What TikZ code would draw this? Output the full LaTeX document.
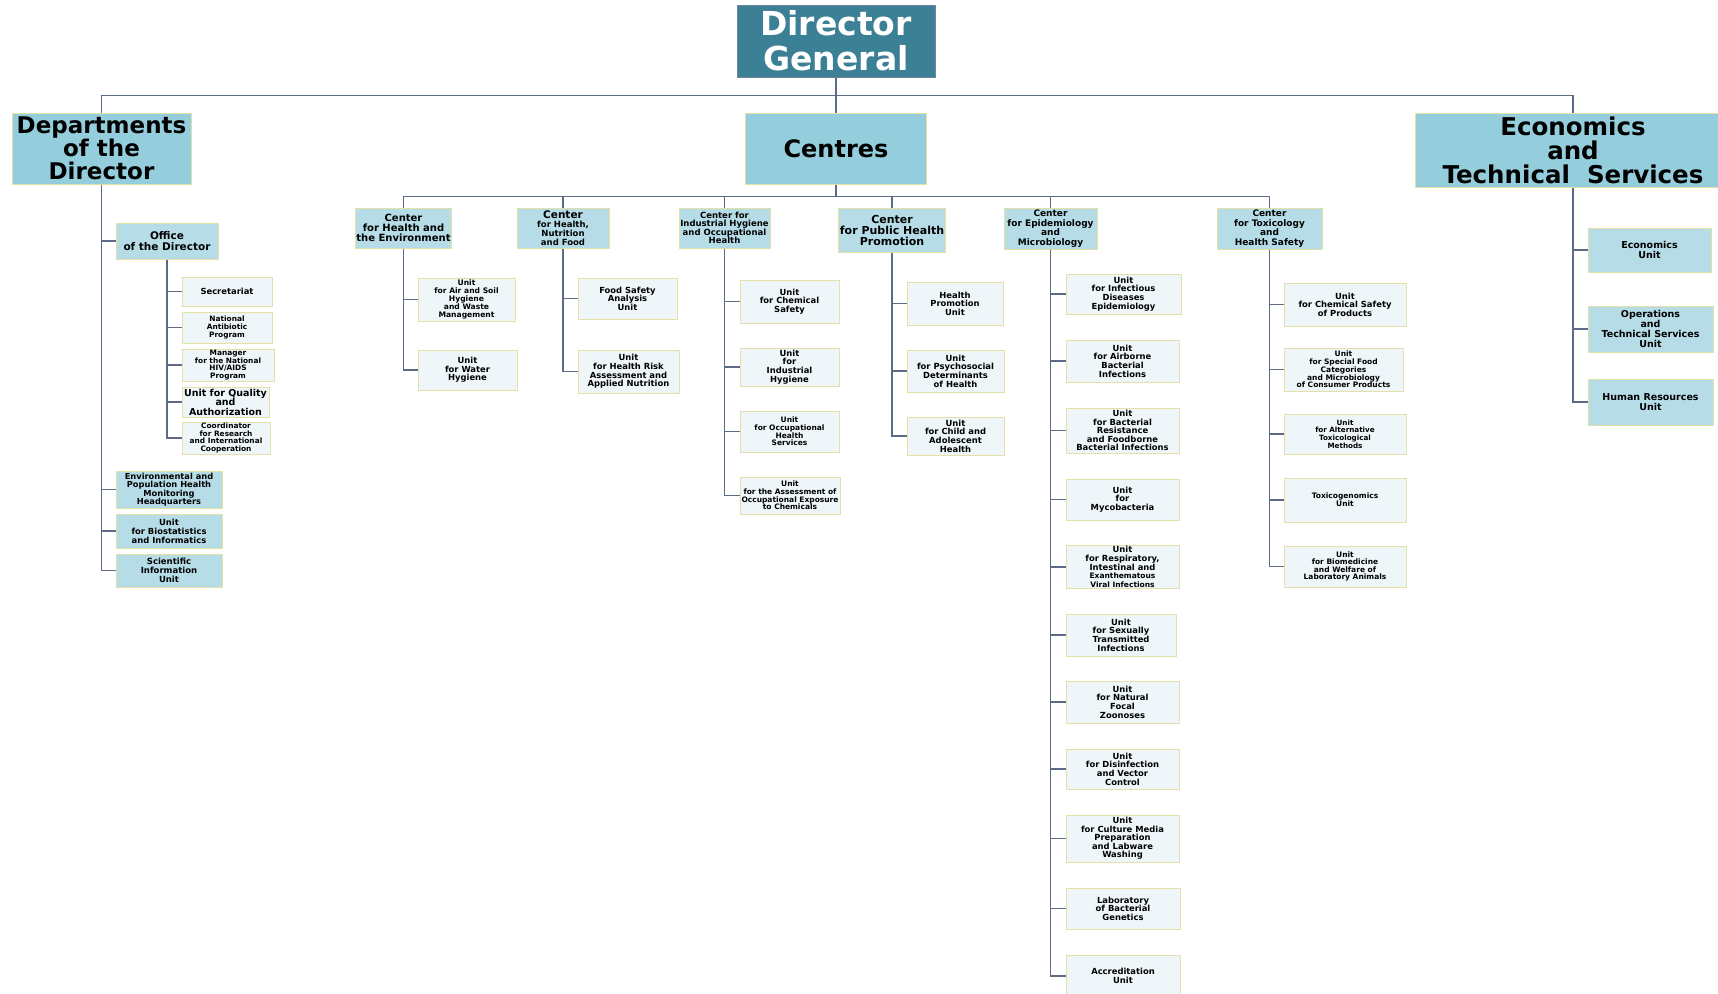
\documentclass[tikz,border=0pt]{standalone}
\usepackage{fontspec}
\setmainfont{DejaVu Sans}
\usetikzlibrary{positioning}
\definecolor{dgTeal}    {HTML}{3B8094}
\definecolor{dgEdge}    {HTML}{6E8598}
\definecolor{branchBlue}{HTML}{94CEDC}
\definecolor{centreBlue}{HTML}{B6DDE7}
\definecolor{unitWhite} {HTML}{EEF6F9}
\definecolor{boxEdge}   {HTML}{E4E1A6}
\definecolor{linkGrey}  {HTML}{5D6B86}
\tikzstyle{director} = [draw=dgEdge, fill=dgTeal, text=white, fs={33}{35}]
\tikzstyle{branch}   = [draw=boxEdge, fill=branchBlue, fs={23}{23}]
\tikzstyle{centre}   = [draw=boxEdge, fill=centreBlue, fs={8.5}{9}]
\tikzstyle{unit}     = [draw=boxEdge, fill=unitWhite, fs={8.4}{8.6}]
\tikzstyle{link}     = [draw=linkGrey, line width=1.4pt]
\tikzset{
  every node/.style={rectangle, align=center, inner sep=1pt, line width=1pt},
  fs/.style 2 args={font=\bfseries\fontsize{#1}{#2}\selectfont},
  sz/.style 2 args={minimum width=#1pt, minimum height=#2pt}
}
\begin{document}
\begin{tikzpicture}[x=1pt,y=-1pt]
\useasboundingbox (0,0) rectangle (1718,993);
\node[director, sz={198}{72}] (dg)      at (836,41)     {Director\\General};
\node[branch, sz={181}{71}, fs={24}{24}] (centres) at (836,148.5) {Centres};
\node[branch, sz={179}{71}]   (dept)    at (101.5,148.5) {Departments\\of the\\Director};
\node[branch, sz={316}{74}, fs={24.5}{24}] (ets) at (1573,150) {Economics\\and\\Technical\ \ Services};

\node[centre, sz={102}{36}, fs={10.5}{11}] (office) at (167,241) {Office\\of the Director};
\node[unit, sz={90}{29}]                (secr)    at (227,291.5) {Secretariat};
\node[unit, sz={90}{31}, fs={7.4}{8}]   (natab)   at (227,327.5) {National\\Antibiotic\\Program};
\node[unit, sz={92}{32}, fs={7.4}{7.5}] (hiv)     at (228,365)   {Manager\\for the National\\HIV/AIDS\\Program};
\node[unit, sz={87}{30}, fs={9.5}{9.5}] (quality) at (225.5,402) {Unit  for Quality\\and\\Authorization};
\node[unit, sz={88}{32}, fs={7.4}{7.5}] (coord)   at (226,438)   {Coordinator\\for Research\\and  International\\Cooperation};
\node[centre, sz={106}{37}, fs={8.3}{8.5}] (envmon)  at (169,489.5) {Environmental and\\Population Health\\Monitoring\\Headquarters};
\node[centre, sz={106}{34}, fs={8.4}{9}]   (biostat) at (169,531)   {Unit\\for Biostatistics\\and Informatics};
\node[centre, sz={106}{33}, fs={8.5}{9}]   (sciinfo) at (169,570.5) {Scientific\\Information\\Unit};

\node[centre, sz={95}{40}, fs={10}{10}]  (che)  at (403.5,228)  {Center\\for Health and\\the Environment};
\node[centre, sz={92}{40}]               (chnf) at (563,228)    {{\fontsize{10.5}{10.5}\selectfont Center}\\for Health,\\Nutrition\\and Food};
\node[centre, sz={91}{40}, fs={8.5}{8.5}] (cih) at (724.5,228)  {Center for\\Industrial Hygiene\\and Occupational\\Health};
\node[centre, sz={104}{44}, fs={11}{11}] (cphp) at (892,230)    {Center\\for Public Health\\Promotion};
\node[centre, sz={93}{41}, fs={9}{9.5}]  (cem)  at (1050.5,228.5) {Center\\for  Epidemiology\\and\\Microbiology};
\node[centre, sz={105}{41}, fs={9}{9.5}] (cths) at (1269.5,228.5) {Center\\for  Toxicology\\and\\Health  Safety};

\node[unit, sz={97}{43}, fs={7.6}{7.8}] (airsoil)    at (466.5,299.5) {Unit\\for Air and Soil\\Hygiene\\and Waste\\Management};
\node[unit, sz={99}{40}]                (water)      at (467.5,370)   {Unit\\for Water\\Hygiene};
\node[unit, sz={99}{41}]                (foodsafe)   at (627.5,298.5) {Food Safety\\Analysis\\Unit};
\node[unit, sz={101}{43}]               (healthrisk) at (628.5,371.5) {Unit\\for Health Risk\\Assessment and\\Applied Nutrition};

\node[unit, sz={99}{43}]                (chemsafe) at (789.5,301.5) {Unit\\for Chemical\\Safety};
\node[unit, sz={99}{38}]                (indhyg)   at (789.5,367)   {Unit\\for\\Industrial\\Hygiene};
\node[unit, sz={99}{41}, fs={7.5}{7.6}] (occserv)  at (789.5,431.5) {Unit\\for Occupational\\Health\\Services};
\node[unit, sz={100}{37}, fs={7.5}{7.6}] (assess)  at (790,495.5)   {Unit\\for the Assessment of\\Occupational  Exposure\\to Chemicals};

\node[unit, sz={96}{43}] (hpromo) at (955,303.5) {Health\\Promotion\\Unit};
\node[unit, sz={97}{42}] (psycho) at (955.5,371) {Unit\\for Psychosocial\\Determinants\\of Health};
\node[unit, sz={97}{38}] (child)  at (955.5,436) {Unit\\for Child and\\Adolescent\\Health};

\node[unit, sz={115}{40}] (infect)   at (1123.5,294)  {Unit\\for Infectious\\Diseases\\Epidemiology};
\node[unit, sz={113}{42}] (airborne) at (1122.5,361)  {Unit\\for Airborne\\Bacterial\\Infections};
\node[unit, sz={113}{45}] (resist)   at (1122.5,430.5) {Unit\\for Bacterial\\Resistance\\and Foodborne\\Bacterial  Infections};
\node[unit, sz={113}{41}] (myco)     at (1122.5,499.5) {Unit\\for\\Mycobacteria};
\node[unit, sz={113}{42}] (resp)     at (1122.5,567)  {Unit\\for Respiratory,\\Intestinal and\\{\fontsize{7.5}{8.6}\selectfont Exanthematous}\\{\fontsize{7.5}{8.6}\selectfont Viral  Infections}};
\node[unit, sz={110}{42}] (sexual)   at (1121,635)    {Unit\\for Sexually\\Transmitted\\Infections};
\node[unit, sz={113}{42}] (zoon)     at (1122.5,702)  {Unit\\for Natural\\Focal\\Zoonoses};
\node[unit, sz={113}{40}] (disinf)   at (1122.5,769)  {Unit\\for Disinfection\\and Vector\\Control};
\node[unit, sz={113}{47}] (culture)  at (1122.5,838.5) {Unit\\for Culture Media\\Preparation\\and Labware\\Washing};
\node[unit, sz={114}{41}] (genetics) at (1123,908.5)  {Laboratory\\of Bacterial\\Genetics};
\node[unit, sz={114}{42}] (accred)   at (1123,976)    {Accreditation\\Unit};

\node[unit, sz={122}{43}]               (chemprod) at (1345,304.5)   {Unit\\for Chemical Safety\\of Products};
\node[unit, sz={119}{43}, fs={7.5}{7.7}] (specfood) at (1343.5,369.5) {Unit\\for Special Food\\Categories\\and Microbiology\\of Consumer Products};
\node[unit, sz={122}{40}, fs={7.2}{7.6}] (alttox)   at (1345,434)    {Unit\\for  Alternative\\Toxicological\\Methods};
\node[unit, sz={122}{44}, fs={7.5}{8}]   (toxgen)   at (1345,500)    {Toxicogenomics\\Unit};
\node[unit, sz={122}{41}, fs={7.5}{7.6}] (biomed)   at (1345,566.5)  {Unit\\for Biomedicine\\and Welfare of\\Laboratory  Animals};

\node[centre, sz={123}{44}, fs={9.5}{10}] (econ) at (1649.5,250) {Economics\\Unit};
\node[centre, sz={125}{46}, fs={9.5}{10}] (ops)  at (1650.5,329) {Operations\\and\\Technical Services\\Unit};
\node[centre, sz={125}{46}, fs={9.5}{10}] (hr)   at (1650.5,402) {Human Resources\\Unit};

\draw[link] (dg.south) -- ++(0,18) -| (dept.north);
\draw[link] (dg.south) -- ++(0,18) -| (ets.north);
\draw[link] (dg) -- (centres);
\foreach \c in {che,chnf,cih,cphp,cem,cths}
  \draw[link] (centres.south) -- ++(0,12) -| (\c.north);

\foreach \u in {office,envmon,biostat,sciinfo}
  \draw[link] (dept.south) |- (\u.west);
\foreach \u in {secr,natab,hiv,quality,coord}
  \draw[link] (office.south) |- (\u.west);
\foreach \u in {airsoil,water}
  \draw[link] (che.south) |- (\u.west);
\foreach \u in {foodsafe,healthrisk}
  \draw[link] (chnf.south) |- (\u.west);
\foreach \u in {chemsafe,indhyg,occserv,assess}
  \draw[link] (cih.south) |- (\u.west);
\foreach \u in {hpromo,psycho,child}
  \draw[link] (cphp.south) |- (\u.west);
\foreach \u in {infect,airborne,resist,myco,resp,sexual,zoon,disinf,culture,genetics,accred}
  \draw[link] (cem.south) |- (\u.west);
\foreach \u in {chemprod,specfood,alttox,toxgen,biomed}
  \draw[link] (cths.south) |- (\u.west);
\foreach \u in {econ,ops,hr}
  \draw[link] (ets.south) |- (\u.west);
\end{tikzpicture}
\end{document}
